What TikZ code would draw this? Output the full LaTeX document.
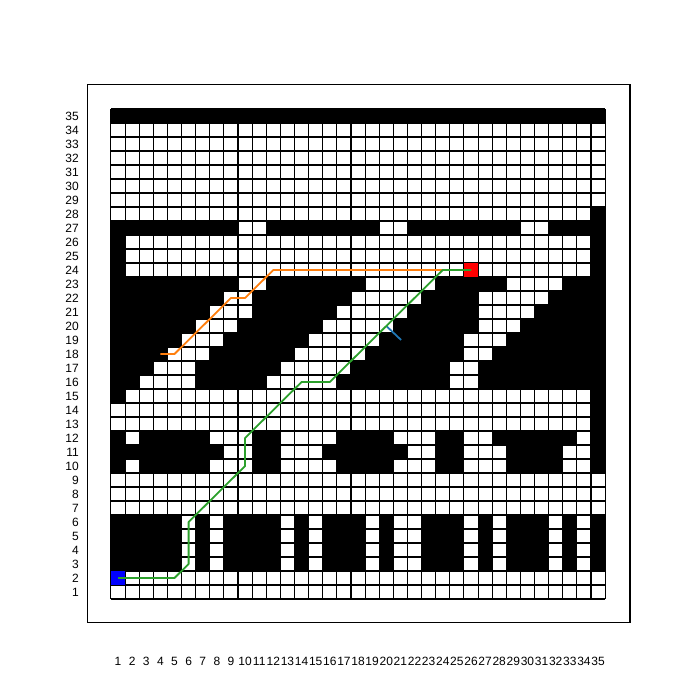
\documentclass[tikz,border=0pt]{standalone}
\usepackage{fontspec}
\setmainfont{Liberation Sans}
\definecolor{mplblue}{HTML}{1F77B4}
\definecolor{mplorange}{HTML}{FF7F0E}
\definecolor{mplgreen}{HTML}{2CA02C}
\tikzset{
  wall/.style={fill=black},
  gridline/.style={line width=1.1pt,black},
  pathline/.style={line width=1.8pt,line join=round},
  ticklab/.style={inner sep=0pt,font=\fontsize{12}{14}\selectfont}
}
\begin{document}
\begin{tikzpicture}[x=1pt,y=1pt]
\useasboundingbox (0,0) rectangle (700,700);
\fill[white] (0,0) rectangle (700,700);
\draw[line width=1.1pt] (87.5,77.5) rectangle (630,615.5);
\begin{scope}[shift={(103.88pt,94pt)},x=14.12pt,y=14pt]
  % white background of grid
  \fill[white] (0.5,0.5) rectangle (35.5,35.5);
  % black cells
  \foreach \r/\rng in {
    35/{1/35},
    28/{35/35},
    27/{1/9,12/19,22/29,32/35},
    26/{1/1,35/35},
    25/{1/1,35/35},
    24/{1/1,35/35},
    23/{1/9,12/18,24/28,33/35},
    22/{1/8,11/17,23/26,32/35},
    21/{1/7,11/16,22/26,31/35},
    20/{1/6,10/15,21/26,30/35},
    19/{1/5,9/14,20/25,29/35},
    18/{1/4,8/13,19/25,28/35},
    17/{1/3,7/12,18/24,27/35},
    16/{1/2,7/11,17/24,27/35},
    15/{1/1,35/35},
    14/{35/35},
    13/{35/35},
    12/{1/1,3/7,11/12,17/20,24/25,28/33,35/35},
    11/{1/8,11/12,16/21,24/25,29/32,35/35},
    10/{1/1,3/7,11/12,17/20,24/25,29/32,35/35},
    6/{1/5,7/7,9/12,14/14,16/18,20/20,23/25,27/27,29/31,33/33,35/35},
    5/{1/5,7/7,9/12,14/14,16/18,20/20,23/25,27/27,29/31,33/33,35/35},
    4/{1/5,7/7,9/12,14/14,16/18,20/20,23/25,27/27,29/31,33/33,35/35},
    3/{1/5,7/7,9/12,14/14,16/18,20/20,23/25,27/27,29/31,33/33,35/35}}
  {
    \foreach \a/\b in \rng {
      \fill[wall] (\a-0.5,\r-0.5) rectangle (\b+0.5,\r+0.5);
    }
  }
  % grid lines
  \foreach \i in {0,...,35} {
    \draw[gridline] (\i+0.5,0.5) -- (\i+0.5,35.5);
    \draw[gridline] (0.5,\i+0.5) -- (35.5,\i+0.5);
  }
  % start and goal cells
  \fill[blue] (0.5,1.5) rectangle (1.5,2.5);
  \fill[red] (25.5,23.5) rectangle (26.5,24.5);
  % paths
  \draw[pathline,mplblue] (20,20) -- (21.05,19);
  \draw[pathline,mplorange] (4,18) -- (5,18) -- (9,22) -- (10,22) -- (12,24) -- (26,24);
  \draw[pathline,mplgreen] (1,2) -- (5,2) -- (6,3) -- (6,6) -- (10,10) -- (10,12) -- (14,16) -- (16,16) -- (24,24) -- (26,24);
\end{scope}
% tick labels
\foreach \c in {1,...,35} {
  \node[ticklab] (xl\c) at ({103.88+14.12*\c},39) {\c};
  \node[ticklab,anchor=east] (yl\c) at (79,{94+14*\c}) {\c};
}
\end{tikzpicture}
\end{document}
